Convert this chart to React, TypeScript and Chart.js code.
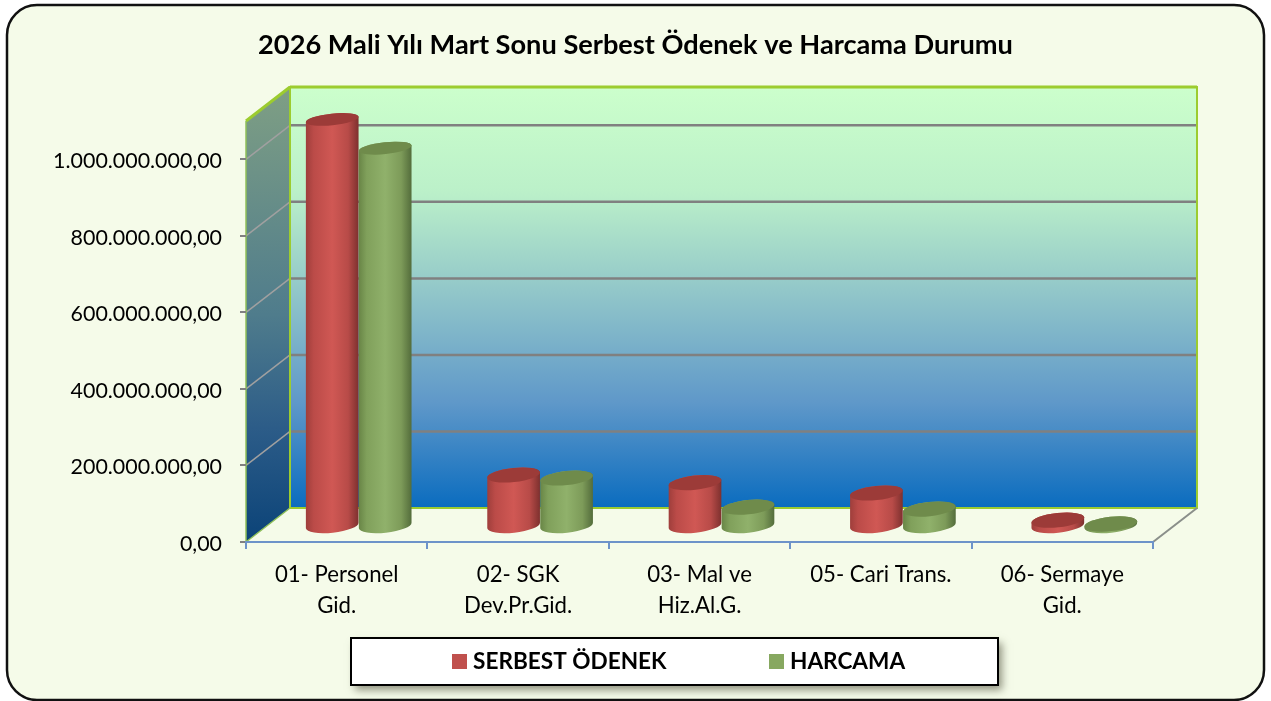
import React, { useEffect, useRef } from "react";
import { Chart, registerables } from "chart.js";

Chart.register(...registerables);

const categories = [
  ["01- Personel", "Gid."],
  ["02- SGK", "Dev.Pr.Gid."],
  ["03- Mal ve", "Hiz.Al.G."],
  ["05- Cari Trans."],
  ["06- Sermaye", "Gid."],
];
const serbestOdenek = [1061000000, 132000000, 112000000, 85000000, 14000000];
const harcama = [986000000, 124000000, 48000000, 43000000, 4000000];
const yTicks = [0, 200000000, 400000000, 600000000, 800000000, 1000000000];

const FONT = "Lato";
const DEPTH_X = 44;
const DEPTH_Y = 34;
const RED_STOPS = ["#9e3e3b", "#bb4b48", "#d05854", "#b84b48", "#7d302e"];
const GREEN_STOPS = ["#688546", "#80a05b", "#90b16b", "#7d9b59", "#536c3b"];

const fmt = (v: number) =>
  new Intl.NumberFormat("tr-TR", { minimumFractionDigits: 2, maximumFractionDigits: 2 }).format(v);

function roundRect(ctx: CanvasRenderingContext2D, x: number, y: number, w: number, h: number, r: number) {
  ctx.beginPath();
  ctx.roundRect(x, y, w, h, r);
}

const scenePlugin = {
  id: "scene",
  beforeDraw(chart: any) {
    const { ctx, chartArea: a, scales } = chart;
    const yS = scales.y;
    ctx.save();
    ctx.fillStyle = "#ffffff";
    ctx.fillRect(0, 0, chart.width, chart.height);
    roundRect(ctx, 7, 5, 1257, 695, 30);
    ctx.fillStyle = "#f5fbe9";
    ctx.fill();
    ctx.lineWidth = 2.5;
    ctx.strokeStyle = "#111111";
    ctx.stroke();

    const bl = a.left + DEPTH_X;
    const br = a.right + DEPTH_X;
    const bt = a.top - DEPTH_Y;
    const bb = a.bottom - DEPTH_Y;

    const back = ctx.createLinearGradient(0, bt, 0, bb);
    back.addColorStop(0, "#ccffcc");
    back.addColorStop(0.25, "#bbf0c9");
    back.addColorStop(0.5, "#8fc4c9");
    back.addColorStop(0.75, "#5f98c9");
    back.addColorStop(1, "#0a6cbf");
    ctx.fillStyle = back;
    ctx.fillRect(bl, bt, br - bl, bb - bt);

    const side = ctx.createLinearGradient(0, bt, 0, a.bottom);
    side.addColorStop(0, "#7f9f84");
    side.addColorStop(0.5, "#4f7c8c");
    side.addColorStop(0.75, "#2c5c88");
    side.addColorStop(1, "#0b4378");
    ctx.fillStyle = side;
    ctx.beginPath();
    ctx.moveTo(a.left, a.top);
    ctx.lineTo(bl, bt);
    ctx.lineTo(bl, bb);
    ctx.lineTo(a.left, a.bottom);
    ctx.closePath();
    ctx.fill();

    for (const t of yS.ticks) {
      if (t.value === 0) continue;
      const y = yS.getPixelForValue(t.value);
      ctx.strokeStyle = "#a0a0a0";
      ctx.lineWidth = 1.5;
      ctx.beginPath();
      ctx.moveTo(a.left, y);
      ctx.lineTo(bl, y - DEPTH_Y);
      ctx.stroke();
      ctx.strokeStyle = "#808080";
      ctx.lineWidth = 2.5;
      ctx.beginPath();
      ctx.moveTo(bl, y - DEPTH_Y);
      ctx.lineTo(br, y - DEPTH_Y);
      ctx.stroke();
    }

    ctx.strokeStyle = "#9ccc2f";
    ctx.lineWidth = 2;
    ctx.strokeRect(bl, bt, br - bl, bb - bt);
    ctx.lineWidth = 3;
    ctx.beginPath();
    ctx.moveTo(bl, bt);
    ctx.lineTo(br, bt);
    ctx.moveTo(a.left, a.top);
    ctx.lineTo(bl, bt);
    ctx.stroke();
    ctx.lineWidth = 1.5;
    ctx.strokeStyle = "#8fc05a";
    ctx.beginPath();
    ctx.moveTo(a.left, a.top);
    ctx.lineTo(a.left, a.bottom);
    ctx.moveTo(a.left, a.bottom);
    ctx.lineTo(bl, bb);
    ctx.stroke();
    ctx.strokeStyle = "#8a8f8a";
    ctx.lineWidth = 2;
    ctx.beginPath();
    ctx.moveTo(a.right, a.bottom);
    ctx.lineTo(br, bb);
    ctx.stroke();
    ctx.restore();
  },
  beforeDatasetsDraw(chart: any) {
    const { ctx } = chart;
    const zero = chart.scales.y.getPixelForValue(0);
    const n = chart.data.labels.length;
    const dx = DEPTH_X / 2;
    const dy = DEPTH_Y / 2 - 0.5;
    for (let i = 0; i < n; i++) {
      chart.data.datasets.forEach((ds: any, d: number) => {
        const el = chart.getDatasetMeta(d).data[i];
        const stops = d === 0 ? RED_STOPS : GREEN_STOPS;
        const topColor = d === 0 ? "#9c3b38" : "#6f8b4b";
        const cx = el.x + dx;
        const a = el.width / 2;
        const rot = -6 * (Math.PI / 180);
        const ca = a * Math.cos(rot);
        const sa = a * Math.sin(rot);
        const yTop = el.y - dy;
        const yBot = zero - dy;
        const bBot = 7.2;
        const bTop = 5.8 + (1.4 * (yTop - 119)) / (yBot - 119);
        const grad = ctx.createLinearGradient(cx - a, 0, cx + a, 0);
        [0, 0.15, 0.5, 0.8, 1].forEach((p, k) => grad.addColorStop(p, stops[k]));
        ctx.save();
        ctx.fillStyle = grad;
        ctx.beginPath();
        ctx.moveTo(cx - ca, yTop - sa);
        ctx.lineTo(cx - ca, yBot - sa);
        ctx.ellipse(cx, yBot, a, bBot, rot, Math.PI, 0, true);
        ctx.lineTo(cx + ca, yTop + sa);
        ctx.ellipse(cx, yTop, a, bTop, rot, 0, Math.PI, true);
        ctx.closePath();
        ctx.fill();
        ctx.fillStyle = topColor;
        ctx.beginPath();
        ctx.ellipse(cx, yTop, a, bTop, rot, 0, Math.PI * 2);
        ctx.fill();
        ctx.restore();
      });
    }
    return false;
  },
  afterDraw(chart: any) {
    const { ctx } = chart;
    ctx.save();
    ctx.shadowColor = "rgba(60,60,40,0.55)";
    ctx.shadowBlur = 8;
    ctx.shadowOffsetX = 4;
    ctx.shadowOffsetY = 5;
    ctx.fillStyle = "#ffffff";
    ctx.fillRect(351, 638, 647, 47);
    ctx.shadowColor = "transparent";
    ctx.strokeStyle = "#000000";
    ctx.lineWidth = 2;
    ctx.strokeRect(351, 638, 647, 47);
    ctx.font = `bold 22.6px ${FONT}`;
    ctx.textBaseline = "middle";
    const swatches = [452, 769];
    chart.data.datasets.forEach((ds: any, d: number) => {
      ctx.fillStyle = ds.backgroundColor;
      ctx.fillRect(swatches[d], 654, 15, 15);
      ctx.fillStyle = "#000000";
      ctx.fillText(ds.label, swatches[d] + 21, 662);
    });
    ctx.restore();
  },
};

export default function App() {
  const ref = useRef<HTMLCanvasElement>(null);
  useEffect(() => {
    document.body.style.margin = "0";
    const chart = new Chart(ref.current as HTMLCanvasElement, {
      type: "bar",
      data: {
        labels: categories,
        datasets: [
          { label: "SERBEST ÖDENEK", data: serbestOdenek, backgroundColor: "#c0504d" },
          { label: "HARCAMA", data: harcama, backgroundColor: "#87a860" },
        ],
      },
      options: {
        animation: false,
        responsive: false,
        layout: { padding: 0 },
        datasets: { bar: { categoryPercentage: 0.584, barPercentage: 1 } },
        plugins: {
          legend: { display: false },
          tooltip: { enabled: false },
          title: {
            display: true,
            text: "2026 Mali Yılı Mart Sonu Serbest Ödenek ve Harcama Durumu",
            color: "#000000",
            font: { family: FONT, size: 27.2, weight: "bold", lineHeight: 1.2 },
            padding: { top: 29, bottom: 59.4 },
          },
        },
        scales: {
          x: {
            grid: { color: "#6d93c9", lineWidth: 2, tickLength: 7, drawOnChartArea: false },
            border: { color: "#6d93c9", width: 2 },
            ticks: {
              color: "#000000",
              font: { family: FONT, size: 22.2, lineHeight: 1.38 },
              maxRotation: 0,
              autoSkip: false,
              padding: 11,
            },
            afterFit: (s: any) => {
              s.height = 159;
            },
          },
          y: {
            min: 0,
            max: 1100000000,
            grid: { color: "#808080", lineWidth: 2, tickLength: 6, drawOnChartArea: false },
            border: { display: false },
            afterBuildTicks: (s: any) => {
              s.ticks = yTicks.map((value) => ({ value }));
            },
            ticks: {
              color: "#000000",
              font: { family: FONT, size: 21.4 },
              padding: 18,
              labelOffset: 2,
              callback: (v: any) => fmt(Number(v)),
            },
            afterFit: (s: any) => {
              s.width = 246;
            },
          },
          spacer: {
            type: "linear",
            position: "right",
            grid: { display: false },
            border: { display: false },
            ticks: { display: false },
            afterFit: (s: any) => {
              s.width = 118;
            },
          },
        },
      },
      plugins: [scenePlugin],
    } as any);
    return () => chart.destroy();
  }, []);
  return <canvas ref={ref} width={1271} height={701} style={{ display: "block" }} />;
}
